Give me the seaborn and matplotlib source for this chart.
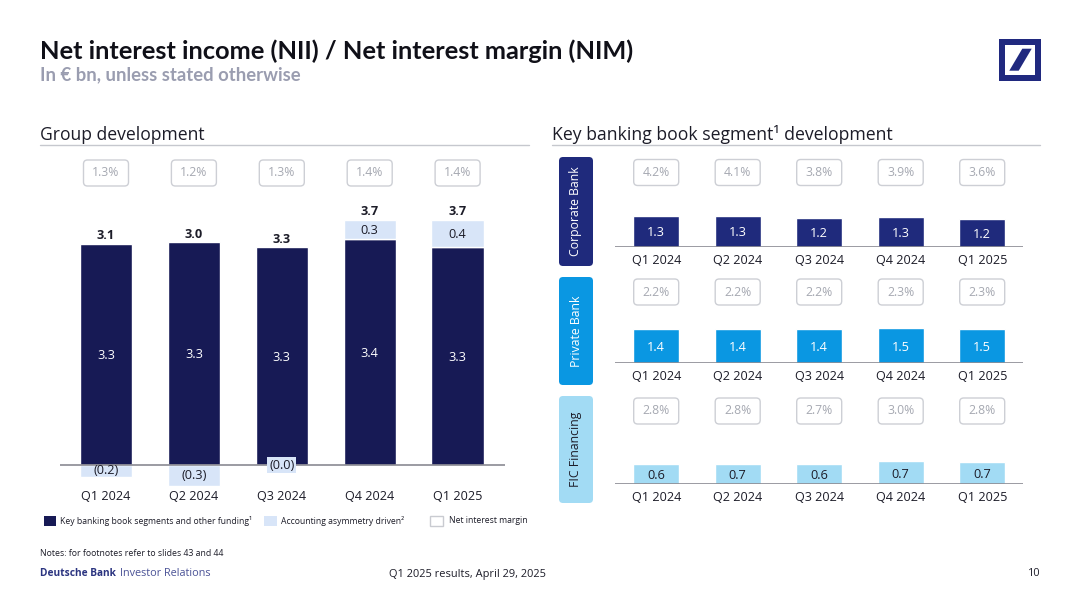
"""
Net interest income / margin slide, rebuilt with seaborn bars.
"""
import matplotlib
matplotlib.use("Agg")
import matplotlib.pyplot as plt
from matplotlib.patches import FancyBboxPatch, Polygon, Rectangle
import numpy as np
import seaborn as sns

W, H = 1080, 607

quarters = ["Q1 2024", "Q2 2024", "Q3 2024", "Q4 2024", "Q1 2025"]

# left panel, bar heights
core_funding = [3.35, 3.37, 3.30, 3.42, 3.30]
asymmetry = [-0.19, -0.32, -0.01, 0.29, 0.41]
core_labels = ["3.3", "3.3", "3.3", "3.4", "3.3"]
asym_labels = ["(0.2)", "(0.3)", "(0.0)", "0.3", "0.4"]
total_labels = ["3.1", "3.0", "3.3", "3.7", "3.7"]
group_nim = ["1.3%", "1.2%", "1.3%", "1.4%", "1.4%"]

# right panels
corporate_bank = [1.34, 1.34, 1.25, 1.30, 1.21]
corporate_labels = ["1.3", "1.3", "1.2", "1.3", "1.2"]
corporate_nim = ["4.2%", "4.1%", "3.8%", "3.9%", "3.6%"]
private_bank = [1.45, 1.46, 1.44, 1.51, 1.47]
private_labels = ["1.4", "1.4", "1.4", "1.5", "1.5"]
private_nim = ["2.2%", "2.2%", "2.2%", "2.3%", "2.3%"]
fic_financing = [0.63, 0.64, 0.62, 0.72, 0.71]
fic_labels = ["0.6", "0.7", "0.6", "0.7", "0.7"]
fic_nim = ["2.8%", "2.8%", "2.7%", "3.0%", "2.8%"]

NAVY = "#171A55"
PALE = "#D8E5F8"
CORP = "#1F2A7C"
PRIV = "#0A97E2"
FIC = "#A2DBF4"
INK = "#1C1C28"
GREY = "#A6A9B2"
RULE = "#8A8A92"

sns.set_theme(style="white")
plt.rcParams["font.family"] = ["Open Sans", "DejaVu Sans"]

fig = plt.figure(figsize=(W / 100, H / 100), dpi=100, facecolor="white")

# page layer in pixel coordinates, for the slide furniture
page = fig.add_axes([0, 0, 1, 1], zorder=3)
page.set_xlim(0, W)
page.set_ylim(H, 0)
page.axis("off")


def panel(x0, x1, top, bottom):
    return fig.add_axes([x0 / W, 1 - bottom / H, (x1 - x0) / W, (bottom - top) / H])


def finish_axes(ax, xlim, tick_pad, tick_size=9.1):
    ax.set_xlim(*xlim)
    ax.axhline(0, color=RULE, lw=1.2, zorder=4)
    ax.set_xlabel("")
    ax.set_ylabel("")
    ax.set_yticks([])
    ax.tick_params(axis="x", length=0, pad=tick_pad, labelsize=tick_size, colors=INK)
    sns.despine(ax=ax, left=True, bottom=True)
    ax.patch.set_alpha(0)


def nim_badges(ax, labels, y_center):
    # boxes follow the bar centres of the panel below them
    fig.canvas.draw()
    for i, lab in enumerate(labels):
        cx = ax.transData.transform((i, 0))[0]
        page.add_patch(FancyBboxPatch((cx - 20.5, y_center - 11), 41, 22,
                                      boxstyle="round,pad=2,rounding_size=4",
                                      fc="white", ec="#CDCFD5", lw=1))
        page.text(cx, y_center, lab, ha="center", va="center", fontsize=8.8, color=GREY)


def segment_panel(values, labels, nims, color, label_color, baseline, px_per_unit,
                  badge_y, tab_top, tab_bottom, tab_text, tab_text_color):
    top = baseline - 30 - 15
    ax = panel(615, 1023, top, baseline)
    sns.barplot(x=quarters, y=values, color=color, saturation=1, width=0.56, ax=ax)
    ax.set_ylim(0, (baseline - top) / px_per_unit)
    finish_axes(ax, ((615 - 656.2) / 81.5, (1023 - 656.2) / 81.5), 5)
    for i, lab in enumerate(labels):
        ax.text(i, values[i] / 2, lab, ha="center", va="center_baseline", fontsize=9.2,
                color=label_color)
    nim_badges(ax, nims, badge_y)
    page.add_patch(FancyBboxPatch((562, tab_top + 3), 28, tab_bottom - tab_top - 6,
                                  boxstyle="round,pad=3,rounding_size=4", fc=color, ec="none"))
    page.text(576, (tab_top + tab_bottom) / 2, tab_text, rotation=90, ha="center", va="center",
              fontsize=8.8, color=tab_text_color)


# left panel
scale = 66.0
base_y = 464.7
ax = panel(60, 505, 205, 487)
sns.barplot(x=quarters, y=core_funding, color=NAVY, saturation=1, width=0.595, ax=ax)
core = np.array(core_funding)
asym = np.array(asymmetry)
stack_base = np.where(asym > 0, core, 0)
sns.barplot(x=quarters, y=asymmetry, bottom=stack_base, color=PALE, saturation=1, width=0.595, ax=ax)
ax.set_ylim((base_y - 487) / scale, (base_y - 205) / scale)
finish_axes(ax, ((60 - 106) / 87.9, (505 - 106) / 87.9), 2.5)

for i, q in enumerate(quarters):
    ax.text(i, core[i] / 2, core_labels[i], ha="center", va="center_baseline", fontsize=9.2,
            color="white", zorder=6)
    top = core[i] + max(asym[i], 0)
    ax.annotate(total_labels[i], (i, top), xytext=(0, 1), textcoords="offset points",
                ha="center", va="bottom", fontsize=9.2, fontweight="bold", color=INK)
    if asym[i] > 0:
        ax.text(i, core[i] + asym[i] / 2, asym_labels[i], ha="center", va="center_baseline",
                fontsize=9.2, color=INK, zorder=6)
    elif asym[i] < -0.05:
        ax.text(i, asym[i] / 2, asym_labels[i], ha="center", va="center",
                fontsize=9.2, color=INK, zorder=6)
    else:
        # too thin to hold its label, so the label gets the bar colour behind it
        ax.text(i, asym[i] / 2, asym_labels[i], ha="center", va="center", fontsize=9.2, color=INK,
                zorder=6, bbox=dict(fc=PALE, ec="none", pad=1.2))
nim_badges(ax, group_nim, 173)

# right panels
segment_panel(corporate_bank, corporate_labels, corporate_nim, CORP, "white", 246.7, 23.0,
              172.5, 157, 266, "Corporate Bank", "white")
segment_panel(private_bank, private_labels, private_nim, PRIV, "white", 363.3, 23.5,
              292, 277, 385, "Private Bank", "white")
segment_panel(fic_financing, fic_labels, fic_nim, FIC, INK, 484.3, 32.0,
              411, 396, 503, "FIC Financing", INK)

# headers
page.text(39.5, 59, "Net interest income (NII) / Net interest margin (NIM)", fontsize=18.25,
          family=["Lato", "DejaVu Sans"], fontweight="bold", color="#101018", va="baseline")
page.text(39.5, 80.5, "In € bn, unless stated otherwise", fontsize=13.3, fontweight="bold",
          family=["Lato", "DejaVu Sans"], color="#9A9DB0", va="baseline")
page.text(39.5, 139.5, "Group development", fontsize=12.65, color=INK, va="baseline")
page.text(552, 139.5, "Key banking book segment¹ development", fontsize=12.7, color=INK, va="baseline")
page.plot([40, 529], [144.5, 144.5], color="#C6C8CE", lw=1)
page.plot([552, 1040], [144.5, 144.5], color="#C6C8CE", lw=1)

# logo
page.add_patch(Rectangle((999, 39), 42, 41.5, fc="#20297F", ec="none"))
page.add_patch(Rectangle((1005, 45), 30, 29.5, fc="white", ec="none"))
page.add_patch(Polygon([(1009.3, 70.7), (1018.7, 70.7), (1031.7, 48.7), (1022.3, 48.7)],
                       fc="#20297F", ec="none"))

# legend
legend_items = [("Key banking book segments and other funding¹", NAVY, "none", 43.5, 60),
                ("Accounting asymmetry driven²", PALE, "none", 264, 281),
                ("Net interest margin", "white", "#C9CBD1", 430, 449)]
for text, fc, ec, sx, tx in legend_items:
    page.add_patch(Rectangle((sx, 516), 12.5, 9.5, fc=fc, ec=ec, lw=1))
    page.text(tx, 520.5, text, fontsize=6.2, color=INK, va="center")

# footer
page.text(40, 554, "Notes: for footnotes refer to slides 43 and 44", fontsize=6.3, color=INK, va="center")
page.text(40, 574, "Deutsche Bank", fontsize=7.3, fontweight="bold", color="#2B3480", va="center")
page.text(120, 574, "Investor Relations", fontsize=7.85, color="#4A5296", va="center")
page.text(389, 574, "Q1 2025 results, April 29, 2025", fontsize=7.95, color=INK, va="center")
page.text(1040, 574, "10", fontsize=7.8, color=INK, va="center", ha="right")

fig.savefig("out.png", dpi=100)
